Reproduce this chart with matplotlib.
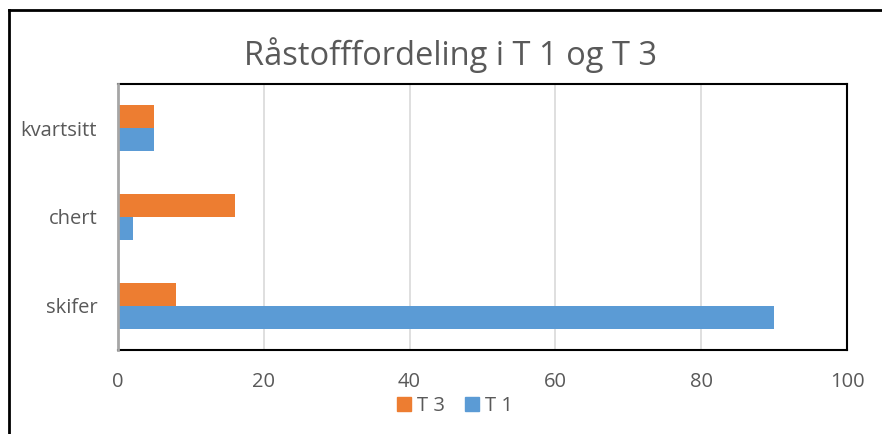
import numpy as np
import matplotlib.pyplot as plt
from matplotlib.lines import Line2D
from matplotlib.patches import Patch

# Råstoff per type, antall i prosent
kategorier = ['skifer', 'chert', 'kvartsitt']
t1 = [90, 2, 5]
t3 = [8, 16, 5]
xticks = [0, 20, 40, 60, 80, 100]

BLA = '#5B9BD5'
ORANSJE = '#ED7D31'
GRA = '#595959'

plt.rcParams['font.family'] = ['Open Sans', 'DejaVu Sans']

W, H = 882, 434
fig = plt.figure(figsize=(W / 100, H / 100), dpi=100)
ax = fig.add_axes([118 / W, 1 - 350 / H, (847 - 118) / W, (350 - 84) / H])

y = np.arange(len(kategorier))
h = 0.26
ax.barh(y - h / 2, t1, height=h, color=BLA, label='T 1', zorder=3)
ax.barh(y + h / 2, t3, height=h, color=ORANSJE, label='T 3', zorder=3)

ax.set_xlim(0, 100)
ax.set_ylim(-0.5, 2.5)
ax.set_xticks(xticks)
ax.set_yticks(y)
ax.set_yticklabels(kategorier)
ax.tick_params(axis='both', length=0, labelsize=14.5, colors=GRA)
ax.tick_params(axis='x', pad=16)
ax.tick_params(axis='y', pad=15)
ax.grid(axis='x', color='#D9D9D9', linewidth=1.2, zorder=0)
for side in ['top', 'right', 'bottom']:
    ax.spines[side].set_color('black')
    ax.spines[side].set_linewidth(1.5)
ax.spines['left'].set_color('#A6A6A6')
ax.spines['left'].set_linewidth(2)
ax.spines['left'].set_zorder(4)

fig.text(450 / W, 1 - 55 / H, 'Råstofffordeling i T 1 og T 3',
         ha='center', va='center', fontsize=23.5, color=GRA)

handles = [Patch(color=ORANSJE, label='T 3'), Patch(color=BLA, label='T 1')]
fig.legend(handles=handles, loc='center', bbox_to_anchor=(455 / W, 1 - 406 / H),
           ncol=2, frameon=False, fontsize=14.5, labelcolor=GRA,
           handlelength=0.7, handleheight=0.7, handletextpad=0.3, columnspacing=1.0)

# ramme rundt diagrammet
fig.add_artist(Line2D([9 / W, 9 / W], [0, 1 - 10 / H], color='black', linewidth=2,
                      transform=fig.transFigure))
fig.add_artist(Line2D([9 / W, 1], [1 - 10 / H, 1 - 10 / H], color='black', linewidth=2,
                      transform=fig.transFigure))

fig.savefig('out.png', dpi=100)
